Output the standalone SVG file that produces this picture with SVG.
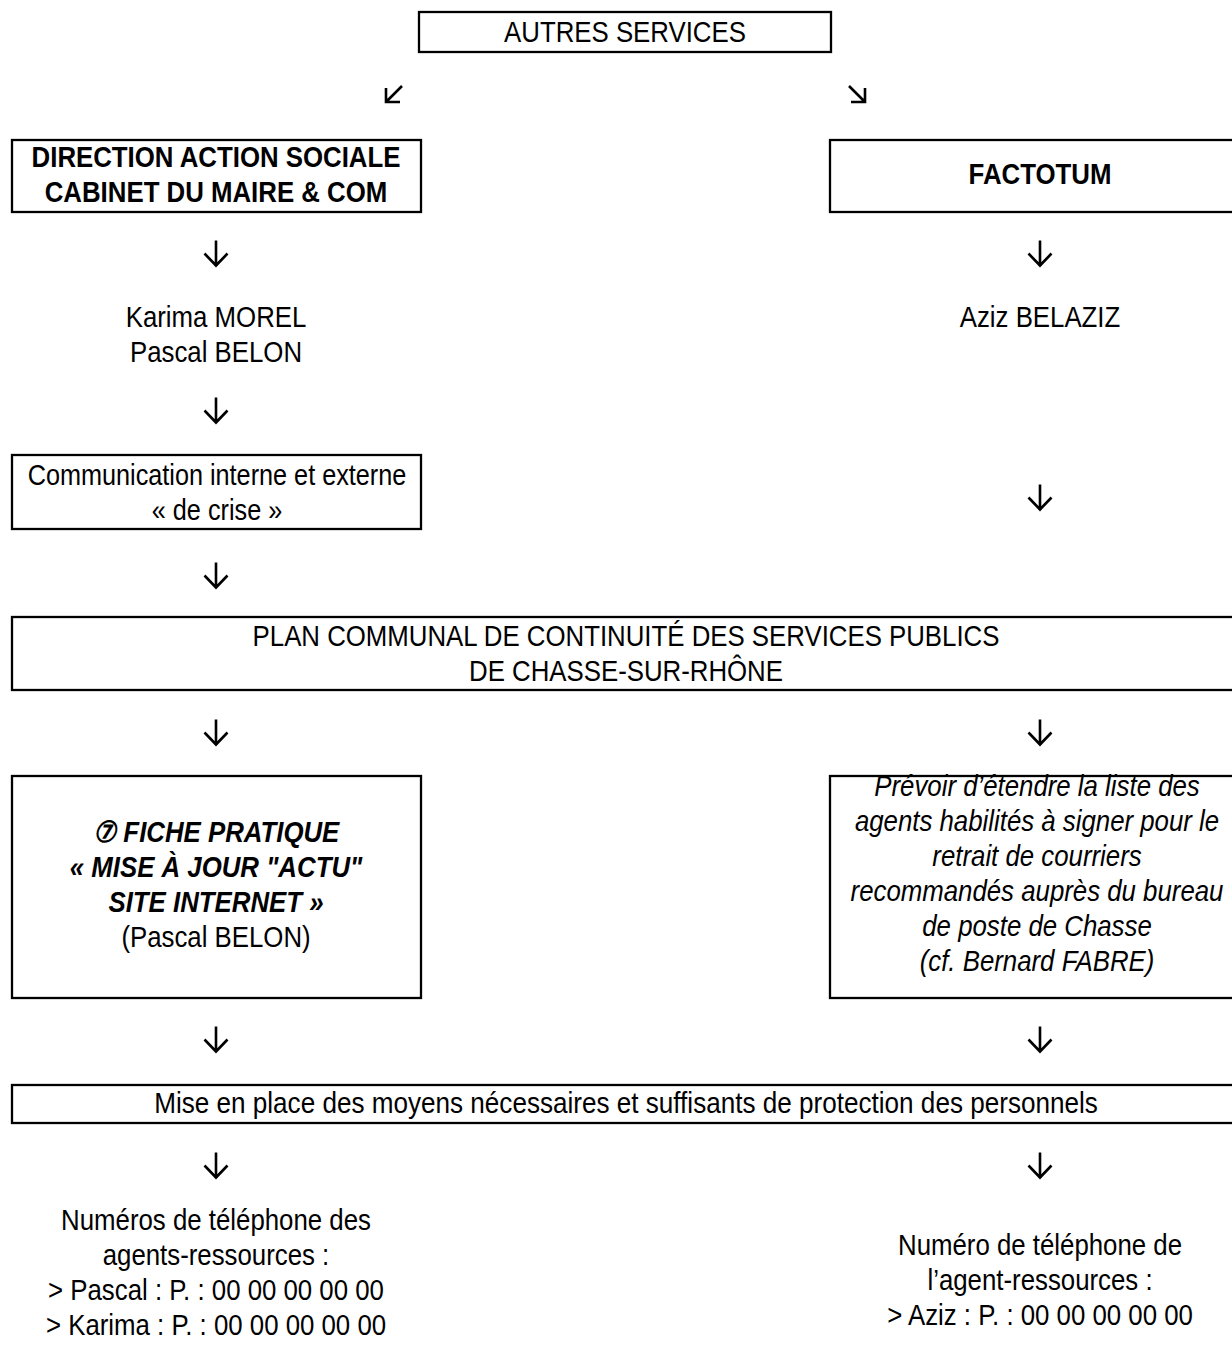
<svg xmlns="http://www.w3.org/2000/svg" xmlns:xlink="http://www.w3.org/1999/xlink" width="1232" height="1349" viewBox="0 0 1232 1349">
<style>
.box{fill:#fff;stroke:#000;stroke-width:2.3}
.t{font-family:"Liberation Sans",Arial,sans-serif;font-size:29px;fill:#000;text-anchor:middle}
.b{font-weight:bold}
.i{font-style:italic}
.arr{fill:none;stroke:#000;stroke-width:2.6;stroke-linecap:butt;stroke-linejoin:miter}
</style>
<defs>
<path id="down" class="arr" d="M0,-12.5 V12.5 M-11.5,0.5 L0,12.5 L11.5,0.5"/>
</defs>
<rect width="1232" height="1349" fill="#fff"/>

<g id="autres-services">
<rect class="box" x="419" y="12" width="412" height="40"/>
<text class="t" transform="translate(625 42) scale(0.89 1)">AUTRES SERVICES</text>
</g>

<g id="direction">
<rect class="box" x="12" y="140" width="409" height="72"/>
<text class="t b" transform="translate(216 167) scale(0.89 1)"><tspan x="0" y="0">DIRECTION ACTION SOCIALE</tspan><tspan x="0" y="35">CABINET DU MAIRE &amp; COM</tspan></text>
</g>

<g id="factotum">
<rect class="box" x="830" y="140" width="420" height="72"/>
<text class="t b" transform="translate(1040 184) scale(0.89 1)">FACTOTUM</text>
</g>

<g id="karima-pascal">
<text class="t" transform="translate(216 327) scale(0.89 1)"><tspan x="0" y="0">Karima MOREL</tspan><tspan x="0" y="35">Pascal BELON</tspan></text>
</g>

<g id="aziz">
<text class="t" transform="translate(1040 327) scale(0.89 1)">Aziz BELAZIZ</text>
</g>

<g id="communication">
<rect class="box" x="12" y="455" width="409" height="74"/>
<text class="t" transform="translate(217 485) scale(0.87 1)"><tspan x="0" y="0">Communication interne et externe</tspan><tspan x="0" y="35">« de crise »</tspan></text>
</g>

<g id="plan">
<rect class="box" x="12" y="617" width="1240" height="73"/>
<text class="t" transform="translate(626 646) scale(0.89 1)"><tspan x="0" y="0">PLAN COMMUNAL DE CONTINUITÉ DES SERVICES PUBLICS</tspan><tspan x="0" y="35">DE CHASSE-SUR-RHÔNE</tspan></text>
</g>

<g id="fiche-pratique">
<rect class="box" x="12" y="776" width="409" height="222"/>
<text class="t" transform="translate(216 842) scale(0.89 1)"><tspan class="b i" x="0" y="0">⑦ FICHE PRATIQUE</tspan><tspan class="b i" x="0" y="35">« MISE À JOUR "ACTU"</tspan><tspan class="b i" x="0" y="70">SITE INTERNET »</tspan><tspan x="0" y="105">(Pascal BELON)</tspan></text>
</g>

<g id="prevoir">
<rect class="box" x="830" y="776" width="420" height="222"/>
<text class="t i" transform="translate(1037 796) scale(0.89 1)"><tspan x="0" y="0">Prévoir d’étendre la liste des</tspan><tspan x="0" y="35">agents habilités à signer pour le</tspan><tspan x="0" y="70">retrait de courriers</tspan><tspan x="0" y="105">recommandés auprès du bureau</tspan><tspan x="0" y="140">de poste de Chasse</tspan><tspan x="0" y="175">(cf. Bernard FABRE)</tspan></text>
</g>

<g id="mise-en-place">
<rect class="box" x="12" y="1085" width="1240" height="38"/>
<text class="t" transform="translate(626 1113) scale(0.9 1)">Mise en place des moyens nécessaires et suffisants de protection des personnels</text>
</g>

<g id="numeros-gauche">
<text class="t" transform="translate(216 1230) scale(0.89 1)"><tspan x="0" y="0">Numéros de téléphone des</tspan><tspan x="0" y="35">agents-ressources :</tspan><tspan x="0" y="70">&gt; Pascal : P. : 00 00 00 00 00</tspan><tspan x="0" y="105">&gt; Karima : P. : 00 00 00 00 00</tspan></text>
</g>

<g id="numero-droite">
<text class="t" transform="translate(1040 1255) scale(0.89 1)"><tspan x="0" y="0">Numéro de téléphone de</tspan><tspan x="0" y="35">l’agent-ressources :</tspan><tspan x="0" y="70">&gt; Aziz : P. : 00 00 00 00 00</tspan></text>
</g>

<g id="connectors">
<path class="arr" d="M402,86 L386,102 M386,88 L386,102 L400,102"/>
<path class="arr" d="M849,86 L865,102 M851,102 L865,102 L865,88"/>
<use xlink:href="#down" x="216" y="253"/>
<use xlink:href="#down" x="1040" y="253"/>
<use xlink:href="#down" x="216" y="410"/>
<use xlink:href="#down" x="1040" y="497"/>
<use xlink:href="#down" x="216" y="575"/>
<use xlink:href="#down" x="216" y="732"/>
<use xlink:href="#down" x="1040" y="732"/>
<use xlink:href="#down" x="216" y="1039"/>
<use xlink:href="#down" x="1040" y="1039"/>
<use xlink:href="#down" x="216" y="1165"/>
<use xlink:href="#down" x="1040" y="1165"/>
</g>
</svg>
